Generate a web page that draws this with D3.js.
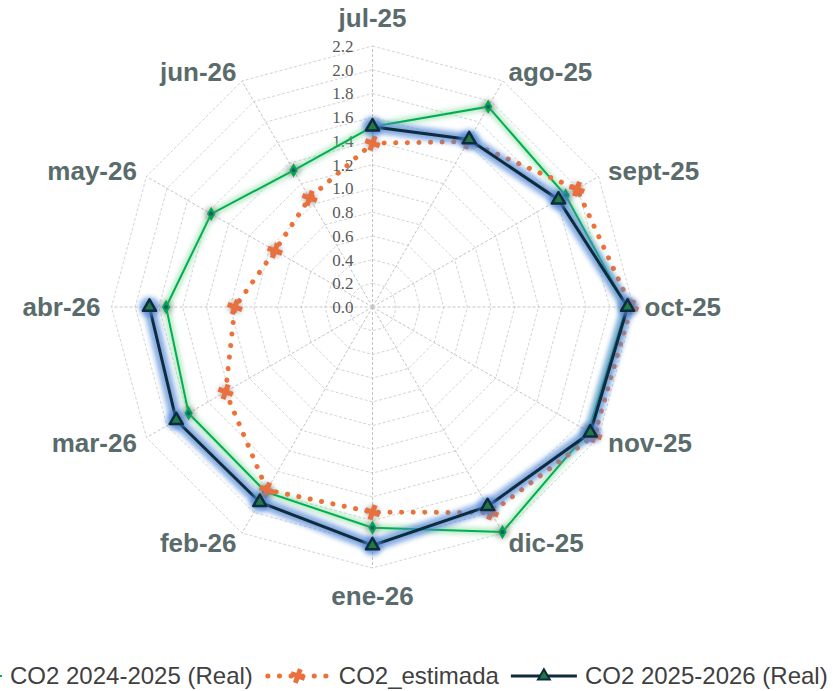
<!DOCTYPE html>
<html>
<head>
<meta charset="utf-8">
<script src="https://cdn.jsdelivr.net/npm/d3@7"></script>
<style>
  body { margin: 0; background: #fff; }
  svg { display: block; }
</style>
</head>
<body>
<svg id="chart" width="833" height="691"></svg>
<script>
var months = ['jul-25', 'ago-25', 'sept-25', 'oct-25', 'nov-25', 'dic-25', 'ene-26', 'feb-26', 'mar-26', 'abr-26', 'may-26', 'jun-26'];
var real2425 = [1.52, 1.95, 1.88, 2.14, 2.10, 2.19, 1.86, 1.80, 1.79, 1.74, 1.57, 1.33];
var estimada = [1.38, 1.61, 1.99, 2.18, 2.16, 2.00, 1.73, 1.78, 1.43, 1.16, 0.95, 1.06];
var real2526 = [1.52, 1.63, 1.81, 2.15, 2.12, 1.94, 2.01, 1.90, 1.91, 1.88, null, null];
var tickValues = [0, 0.2, 0.4, 0.6, 0.8, 1.0, 1.2, 1.4, 1.6, 1.8, 2.0, 2.2];
var seriesNames = ['CO2 2024-2025 (Real)', 'CO2_estimada', 'CO2 2025-2026 (Real)'];

var cx = 372.5, cy = 307, R = 261;
var svg = d3.select('#chart');

var r = d3.scaleLinear().domain([0, 2.2]).range([0, R]);
var ang = d3.scaleLinear().domain([0, months.length]).range([0, 2 * Math.PI]);

var defs = svg.append('defs');
function blur(id, sd) {
  defs.append('filter').attr('id', id)
    .attr('x', '-50%').attr('y', '-50%').attr('width', '200%').attr('height', '200%')
    .append('feGaussianBlur').attr('stdDeviation', sd);
}
blur('glow', 2.5);
blur('shadow', 2.5);

svg.append('rect').attr('width', 833).attr('height', 691).attr('fill', '#fff');

var g = svg.append('g').attr('transform', 'translate(' + cx + ',' + cy + ')');

// grid rings
var ring = d3.lineRadial()
  .angle(function (d, i) { return ang(i); })
  .radius(function (d) { return r(d); })
  .curve(d3.curveLinearClosed);

g.selectAll('.ring')
  .data(tickValues.slice(1))
  .enter().append('path')
  .attr('class', 'ring')
  .attr('d', function (t) { return ring(months.map(function () { return t; })); })
  .attr('fill', 'none')
  .attr('stroke', '#d4d4d4')
  .attr('stroke-width', 1)
  .attr('stroke-dasharray', '3,2');

g.selectAll('.spoke')
  .data(months)
  .enter().append('line')
  .attr('class', 'spoke')
  .attr('x1', 0).attr('y1', 0)
  .attr('x2', function (d, i) { return R * Math.sin(ang(i)); })
  .attr('y2', function (d, i) { return -R * Math.cos(ang(i)); })
  .attr('stroke', '#c4c4c4')
  .attr('stroke-width', 1)
  .attr('stroke-dasharray', '3,2');

// tick labels
g.selectAll('.tick')
  .data(tickValues)
  .enter().append('text')
  .attr('class', 'tick')
  .attr('x', -19)
  .attr('y', function (d) { return -r(d); })
  .attr('dy', '0.35em')
  .attr('text-anchor', 'end')
  .attr('font-family', '"Liberation Serif", "Times New Roman", serif')
  .attr('font-size', 17)
  .attr('fill', '#595959')
  .text(function (d) { return d.toFixed(1); });

// category labels
g.selectAll('.cat')
  .data(months)
  .enter().append('text')
  .attr('class', 'cat')
  .attr('x', function (d, i) { return 272 * Math.sin(ang(i)); })
  .attr('y', function (d, i) {
    var c = Math.cos(ang(i));
    var y = -272 * c;
    if (Math.abs(c) > 0.99) y -= 17 * c;
    return y;
  })
  .attr('dy', '0.35em')
  .attr('text-anchor', function (d, i) {
    var s = Math.sin(ang(i));
    return s > 0.01 ? 'start' : (s < -0.01 ? 'end' : 'middle');
  })
  .attr('font-family', '"Liberation Sans", Arial, sans-serif')
  .attr('font-weight', 'bold')
  .attr('font-size', 26)
  .attr('fill', '#596b6b')
  .text(function (d) { return d; });

function pt(v, i) {
  return [r(v) * Math.sin(ang(i)), -r(v) * Math.cos(ang(i))];
}

var closedLine = d3.lineRadial()
  .angle(function (d, i) { return ang(i); })
  .radius(function (d) { return r(d); })
  .curve(d3.curveLinearClosed);

var openLine = d3.lineRadial()
  .defined(function (d) { return d != null; })
  .angle(function (d, i) { return ang(i); })
  .radius(function (d) { return r(d); });

function markerShadows(data) {
  g.append('g').selectAll('circle')
    .data(data.map(function (v, i) { return v == null ? null : pt(v, i); }).filter(Boolean))
    .enter().append('circle')
    .attr('cx', function (p) { return p[0]; })
    .attr('cy', function (p) { return p[1]; })
    .attr('r', 7)
    .attr('fill', '#7a7a7a')
    .attr('opacity', 0.45)
    .attr('filter', 'url(#shadow)');
}

// series 1: green
g.append('path').attr('d', closedLine(real2425))
  .attr('fill', 'none').attr('stroke', '#7fd69a').attr('stroke-width', 7)
  .attr('opacity', 0.55).attr('filter', 'url(#glow)');
g.append('path').attr('d', closedLine(real2425))
  .attr('fill', 'none').attr('stroke', '#00b050').attr('stroke-width', 2);
markerShadows(real2425);
var gm = g.append('g').selectAll('g')
  .data(real2425)
  .enter().append('g')
  .attr('transform', function (d, i) { return 'translate(' + pt(d, i) + ')'; });
gm.append('path').attr('d', d3.symbol(d3.symbolDiamond, 60)).attr('fill', '#00a84c');
gm.append('circle').attr('r', 2).attr('fill', '#1d5a7a');

// series 2: orange dotted
g.append('path').attr('d', closedLine(estimada))
  .attr('fill', 'none').attr('stroke', '#ec7238').attr('stroke-width', 5)
  .attr('stroke-linecap', 'round').attr('stroke-dasharray', '0.1,11.5');
markerShadows(estimada);
g.append('g').selectAll('path')
  .data(estimada)
  .enter().append('path')
  .attr('transform', function (d, i) { return 'translate(' + pt(d, i) + ') rotate(20)'; })
  .attr('d', d3.symbol(d3.symbolCross, 130))
  .attr('fill', '#e8703e');

// series 3: dark navy
g.append('path').attr('d', openLine(real2526))
  .attr('fill', 'none').attr('stroke', '#4f86d6').attr('stroke-width', 12)
  .attr('stroke-linejoin', 'round').attr('opacity', 0.7).attr('filter', 'url(#glow)');
g.append('path').attr('d', openLine(real2526))
  .attr('fill', 'none').attr('stroke', '#0f2b3c').attr('stroke-width', 3);
var dm = real2526.map(function (v, i) { return v == null ? null : pt(v, i); }).filter(Boolean);
g.append('g').selectAll('circle')
  .data(dm)
  .enter().append('circle')
  .attr('cx', function (p) { return p[0]; })
  .attr('cy', function (p) { return p[1]; })
  .attr('r', 10)
  .attr('fill', '#4f86d6')
  .attr('opacity', 0.7)
  .attr('filter', 'url(#glow)');
g.append('g').selectAll('path')
  .data(dm)
  .enter().append('path')
  .attr('transform', function (p) { return 'translate(' + p + ')'; })
  .attr('d', d3.symbol(d3.symbolTriangle, 75))
  .attr('fill', '#1f7a45')
  .attr('stroke', '#0f2b3c')
  .attr('stroke-width', 2.5)
  .attr('stroke-linejoin', 'round');

// legend
var legend = svg.append('g').attr('transform', 'translate(0,676)');
var x = -64;
seriesNames.forEach(function (name, k) {
  var item = legend.append('g').attr('transform', 'translate(' + x + ',0)');
  if (k === 0) {
    item.append('line').attr('x1', 0).attr('x2', 66).attr('stroke', '#00b050').attr('stroke-width', 2);
    item.append('path').attr('transform', 'translate(33,0)').attr('d', d3.symbol(d3.symbolDiamond, 55)).attr('fill', '#00a84c');
  } else if (k === 1) {
    item.append('line').attr('x1', 3).attr('x2', 64).attr('stroke', '#ec7238').attr('stroke-width', 5)
      .attr('stroke-linecap', 'round').attr('stroke-dasharray', '0.1,11.5');
    item.append('path').attr('transform', 'translate(33,0) rotate(20)').attr('d', d3.symbol(d3.symbolCross, 120)).attr('fill', '#e8703e');
  } else {
    item.append('line').attr('x1', 0).attr('x2', 66).attr('stroke', '#0f2b3c').attr('stroke-width', 3);
    item.append('path').attr('transform', 'translate(33,0)').attr('d', d3.symbol(d3.symbolTriangle, 60))
      .attr('fill', '#1f7a45').attr('stroke', '#0f2b3c').attr('stroke-width', 2);
  }
  var t = item.append('text')
    .attr('x', 74)
    .attr('dy', '0.35em')
    .attr('font-family', '"Liberation Sans", Arial, sans-serif')
    .attr('font-size', 24)
    .attr('fill', '#404040')
    .text(name);
  x += 74 + t.node().getComputedTextLength() + 12;
});
</script>
</body>
</html>
